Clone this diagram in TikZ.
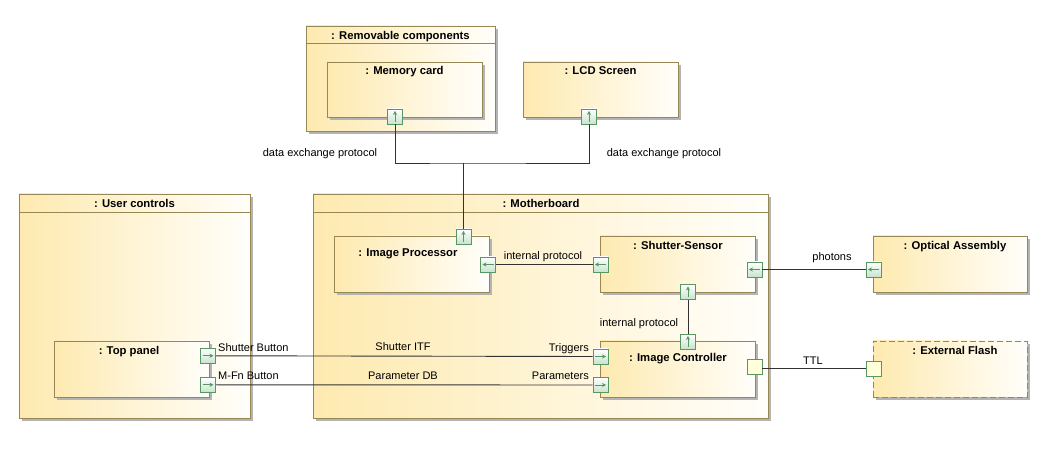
\documentclass[tikz,border=0pt]{standalone}
\usepackage{fontspec}
\setmainfont{Liberation Sans}
\usetikzlibrary{shadows,arrows.meta,calc}
\definecolor{boxdark}{RGB}{254,234,176}
\definecolor{boxlight}{RGB}{255,254,250}
\definecolor{bordc}{RGB}{150,135,85}
\definecolor{shadc}{RGB}{180,180,180}
\definecolor{portc}{RGB}{88,150,100}
\definecolor{portfill}{RGB}{200,228,206}
\definecolor{plainfill}{RGB}{255,255,218}
\definecolor{linec}{RGB}{50,50,50}
\begin{document}
\begin{tikzpicture}[x=1bp,y=-1bp,
  comp/.style={draw=bordc, line width=0.9bp, left color=boxdark, right color=boxlight,
    drop shadow={shadow xshift=3bp, shadow yshift=-3bp, fill=shadc, opacity=1},
    inner sep=0pt, minimum width=155bp, minimum height=56bp},
  frame/.style={comp},
  port/.style={draw=portc, line width=0.8bp, top color=white, bottom color=portfill,
    inner sep=0pt, minimum size=15bp},
  plainport/.style={draw=portc, line width=0.8bp, fill=plainfill, inner sep=0pt, minimum size=15bp},
  parrow/.style={draw=portc, line width=0.8bp, -{Stealth[length=4bp,width=4.2bp]}},
  pup/.style={port, path picture={\draw[parrow] ([yshift=-5.5bp]path picture bounding box.center) -- ([yshift=5.5bp]path picture bounding box.center);}},
  pleft/.style={port, path picture={\draw[parrow] ([xshift=5.5bp]path picture bounding box.center) -- ([xshift=-5.5bp]path picture bounding box.center);}},
  pright/.style={port, path picture={\draw[parrow] ([xshift=-5.5bp]path picture bounding box.center) -- ([xshift=5.5bp]path picture bounding box.center);}},
  ttl/.style={font=\fontsize{11.3bp}{13bp}\selectfont\bfseries, inner sep=0pt, text height=12bp, text depth=2bp},
  lbl/.style={font=\fontsize{11bp}{13bp}\selectfont, inner sep=0pt, text height=12bp, text depth=2bp},
  conn/.style={draw=linec, line width=0.9bp},
  hdr/.style={draw=bordc, line width=0.9bp}
]
\useasboundingbox (0,0) rectangle (1049,463);

% frames
\node[frame, minimum width=189bp, minimum height=105bp] (rem) at (400.5,78.5) {};
\node[frame, minimum width=231bp, minimum height=224bp] (uc) at (134.5,306) {};
\node[frame, minimum width=455bp, minimum height=224bp] (mb) at (540.5,306) {};
\draw[hdr] ([yshift=-18bp]rem.north west) -- ([yshift=-18bp]rem.north east);
\draw[hdr] ([yshift=-19bp]uc.north west) -- ([yshift=-19bp]uc.north east);
\draw[hdr] ([yshift=-19bp]mb.north west) -- ([yshift=-19bp]mb.north east);
\node[ttl] (tRem) at (400.5,35) {: Removable components};
\node[ttl] (tUc) at (134.5,203) {: User controls};
\node[ttl] (tMb) at (541,203) {: Motherboard};

% components
\node[comp, minimum height=55bp] (mem) at (404.5,89.5) {};
\node[comp, minimum height=55bp] (lcd) at (600.5,89.5) {};
\node[comp] (ip) at (411.5,264) {};
\node[comp] (ss) at (677.5,264) {};
\node[comp, minimum width=154bp] (oa) at (950,264) {};
\node[comp] (ic) at (677.5,369) {};
\node[comp, minimum width=154bp, dashed, dash pattern=on 6bp off 3bp] (ef) at (950,369) {};
\node[comp] (tp) at (131.5,369) {};

\node[ttl] (tMem) at (404.5,70) {: Memory card};
\node[ttl] (tLcd) at (600.5,70) {: LCD Screen};
\node[ttl] (tIp) at (408,252) {: Image Processor};
\node[ttl] (tSs) at (678,245) {: Shutter-Sensor};
\node[ttl] (tOa) at (955,245) {: Optical Assembly};
\node[ttl] (tIc) at (678,357) {: Image Controller};
\node[ttl] (tEf) at (955,350) {: External Flash};
\node[ttl] (tTp) at (129,350) {: Top panel};

% ports
\node[pup] (memp) at (395,116.5) {};
\node[pup] (lcdp) at (589,116.5) {};
\node[pup] (ipt) at (463.5,236.5) {};
\node[pleft] (ipr) at (488,264.5) {};
\node[pleft] (ssl) at (600.5,264.5) {};
\node[pleft] (ssr) at (754.5,269.5) {};
\node[pleft] (oal) at (873.5,269.5) {};
\node[pup] (ssb) at (688,292) {};
\node[pup] (ict) at (688,341.5) {};
\node[pright] (icl1) at (600.5,356.5) {};
\node[pright] (icl2) at (600.5,385) {};
\node[plainport] (icr) at (754.5,366.8) {};
\node[plainport] (efl) at (873.5,368.8) {};
\node[pright] (tp1) at (208,355.8) {};
\node[pright] (tp2) at (208,384.8) {};

% connectors
\coordinate (jy) at (0,163);
\coordinate (jn) at (ipt.north |- jy);
\draw[conn] (memp.south) |- (jn) -| (lcdp.south);
\draw[conn] (jn) -- (ipt.north);
\draw[conn] (ipr.east) -- (ssl.west);
\draw[conn] (ssr.east) -- (oal.west);
\draw[conn] (ssb.south) -- (ict.north);
\draw[conn] (tp1.east) -- (icl1.west);
\draw[conn] (tp2.east) -- (icl2.west);
\draw[conn] (icr.east |- efl.west) -- (efl.west);

% labels
\node[lbl] (l1) at (320,152) {data exchange protocol};
\node[lbl] (l2) at (664,152) {data exchange protocol};
\node[lbl] (l3) at (543,255) {internal protocol};
\node[lbl] (l4) at (832,256) {photons};
\node[lbl] (l5) at (639,322) {internal protocol};
\node[lbl, anchor=west] (l6) at (218,347) {Shutter Button};
\node[lbl, anchor=west] (l7) at (218,375) {M-Fn Button};
\node[lbl] (l8) at (403,346) {Shutter ITF};
\node[lbl] (l9) at (403,375) {Parameter DB};
\node[lbl, anchor=east] (l10) at (589,347) {Triggers};
\node[lbl, anchor=east] (l11) at (589,375) {Parameters};
\node[lbl] (l12) at (813,360) {TTL};
\end{tikzpicture}
\end{document}
